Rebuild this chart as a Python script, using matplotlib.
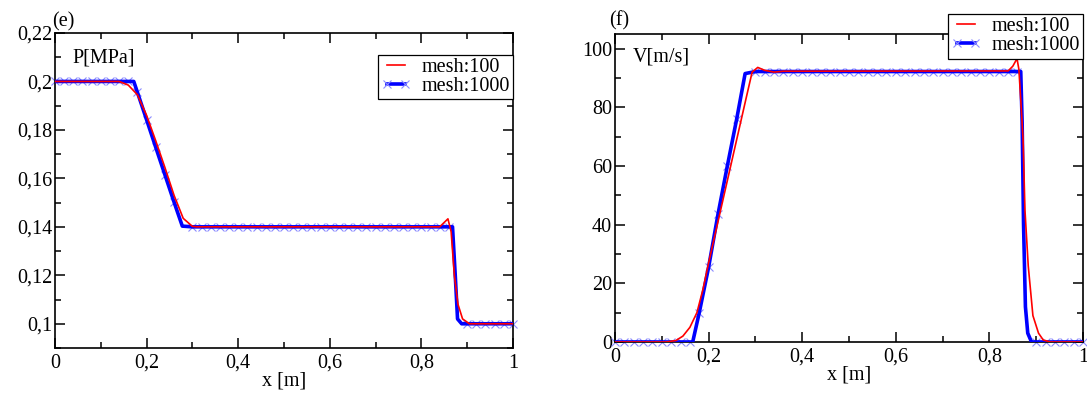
"""Pressure and velocity profiles, mesh:100 vs mesh:1000 (panels e and f)."""
import matplotlib
matplotlib.use("Agg")
import matplotlib.pyplot as plt
from matplotlib.lines import Line2D
from matplotlib.ticker import FuncFormatter, MultipleLocator

# ── data ──
# (e) pressure, mesh:100 (red)
P100_X = [0, 0.14, 0.16, 0.18, 0.20, 0.22, 0.24, 0.26, 0.28, 0.30, 0.31,
          0.84, 0.858, 0.865, 0.872, 0.88, 0.89, 0.905, 1.0]
P100_Y = [0.2, 0.2, 0.1985, 0.1945, 0.186, 0.1755, 0.1645, 0.153, 0.1435, 0.1402, 0.14,
          0.14, 0.1433, 0.138, 0.12, 0.108, 0.102, 0.1, 0.1]

# (e) pressure, mesh:1000 (blue, x markers)
P1000_X = [0, 0.02, 0.04, 0.06, 0.08, 0.10, 0.12, 0.14, 0.16, 0.172,
           0.18, 0.20, 0.22, 0.24, 0.26, 0.278,
           0.30, 0.32, 0.34, 0.36, 0.38, 0.40, 0.42, 0.44, 0.46, 0.48, 0.50,
           0.52, 0.54, 0.56, 0.58, 0.60, 0.62, 0.64, 0.66, 0.68, 0.70, 0.72,
           0.74, 0.76, 0.78, 0.80, 0.82, 0.84, 0.86, 0.868,
           0.874, 0.879, 0.888, 0.90, 0.92, 0.94, 0.96, 0.98, 1.0]
P1000_Y = ([0.2] * 10
           + [0.1955, 0.1842, 0.1728, 0.1615, 0.1502, 0.1403]
           + [0.14] * 30
           + [0.12, 0.102, 0.1]
           + [0.1] * 6)

# (f) velocity, mesh:100 (red)
V100_X = [0, 0.11, 0.13, 0.145, 0.16, 0.175, 0.188, 0.20, 0.22, 0.24, 0.26, 0.28,
          0.293, 0.305, 0.32, 0.34, 0.36, 0.84, 0.85, 0.859, 0.863, 0.868,
          0.872, 0.876, 0.883, 0.893, 0.905, 0.915, 0.93, 1.0]
V100_Y = [0, 0, 0.5, 2, 5, 10, 18, 27, 41, 55, 69, 83,
          92, 93.6, 92.6, 92.0, 92.3, 92.4, 94, 96.6, 93, 80,
          69, 45, 26, 9, 3, 0.7, 0, 0]

# (f) velocity, mesh:1000 (blue, x markers)
V1000_X = [0, 0.02, 0.04, 0.06, 0.08, 0.10, 0.12, 0.14, 0.16, 0.166,
           0.18, 0.20, 0.22, 0.24, 0.26, 0.278,
           0.30, 0.32, 0.34, 0.36, 0.38, 0.40, 0.42, 0.44, 0.46, 0.48, 0.50,
           0.52, 0.54, 0.56, 0.58, 0.60, 0.62, 0.64, 0.66, 0.68, 0.70, 0.72,
           0.74, 0.76, 0.78, 0.80, 0.82, 0.84, 0.86, 0.867,
           0.870, 0.873, 0.877, 0.882, 0.89, 0.90, 0.92, 0.94, 0.96, 0.98, 1.0]
V1000_Y = ([0] * 10
           + [10, 25.5, 43.5, 60, 76, 91.5]
           + [92.2] * 30
           + [75, 40, 12, 3, 0]
           + [0] * 6)

RED = "#ff0000"
BLUE = "#0000ff"
LIGHT = "#8c8cff"
FS = 14.5

plt.rcParams.update({"font.family": "Liberation Serif", "font.size": FS,
                     "axes.linewidth": 1.2})


def comma(v, _pos):
    return f"{round(v, 4):g}".replace(".", ",")


def style(ax, ymajor, yminor):
    ax.set_xlim(0, 1)
    ax.xaxis.set_major_locator(MultipleLocator(0.2))
    ax.xaxis.set_minor_locator(MultipleLocator(0.1))
    ax.yaxis.set_major_locator(MultipleLocator(ymajor))
    ax.yaxis.set_minor_locator(MultipleLocator(yminor))
    ax.xaxis.set_major_formatter(FuncFormatter(comma))
    ax.yaxis.set_major_formatter(FuncFormatter(comma))
    ax.tick_params(which="both", direction="in", top=True, right=True,
                   width=1.1, labelsize=FS)
    ax.tick_params(axis="x", pad=4)
    ax.tick_params(axis="y", pad=2)
    ax.tick_params(which="major", length=7)
    ax.tick_params(which="minor", length=4)
    ax.set_xlabel("x [m]", labelpad=-1)


def draw(ax, x100, y100, x1000, y1000):
    # markers only on the 0.02 grid, not on the extra corner points
    grid = [i for i, x in enumerate(x1000) if abs(x * 50 - round(x * 50)) < 1e-6]
    ax.plot(x1000, y1000, ls="none", marker="x", ms=5.5, mew=0.8,
            markevery=grid, color=LIGHT, zorder=2, clip_on=False)
    ax.plot(x1000, y1000, color=BLUE, lw=2.6, zorder=3)
    ax.plot(x100, y100, color=RED, lw=1.2, zorder=4)


def legend(ax, anchor):
    handles = [Line2D([], [], color=RED, lw=1.2),
               Line2D([], [], color=BLUE, lw=2.6, marker="x", ms=5.5,
                      mew=0.8, mec=LIGHT)]
    leg = ax.legend(handles, ["mesh:100", "mesh:1000"], loc="upper right",
                    bbox_to_anchor=anchor, borderaxespad=0, fancybox=False,
                    framealpha=1, edgecolor="black", fontsize=FS,
                    handlelength=1.5, handletextpad=0.5, labelspacing=0.0,
                    borderpad=0.15, numpoints=2)
    leg.get_frame().set_linewidth(0.9)
    leg.set_zorder(10)


fig = plt.figure(figsize=(10.87, 3.96), dpi=100)

ax1 = fig.add_axes([0.0506, 0.1212, 0.4213, 0.7955])
draw(ax1, P100_X, P100_Y, P1000_X, P1000_Y)
style(ax1, 0.02, 0.01)
ax1.set_ylim(0.09, 0.22)
ax1.text(0.039, 0.92, "P[MPa]", transform=ax1.transAxes, va="center")
ax1.text(-0.007, 1.005, "(e)", transform=ax1.transAxes, va="bottom")
legend(ax1, (1.0, 0.930))

ax2 = fig.add_axes([0.5658, 0.1364, 0.4305, 0.7778])
draw(ax2, V100_X, V100_Y, V1000_X, V1000_Y)
style(ax2, 20, 10)
ax2.set_ylim(0, 105)
ax2.text(0.038, 0.925, "V[m/s]", transform=ax2.transAxes, va="center")
ax2.text(-0.013, 1.01, "(f)", transform=ax2.transAxes, va="bottom")
legend(ax2, (1.0, 1.064))

fig.savefig("out.png", dpi=100)
